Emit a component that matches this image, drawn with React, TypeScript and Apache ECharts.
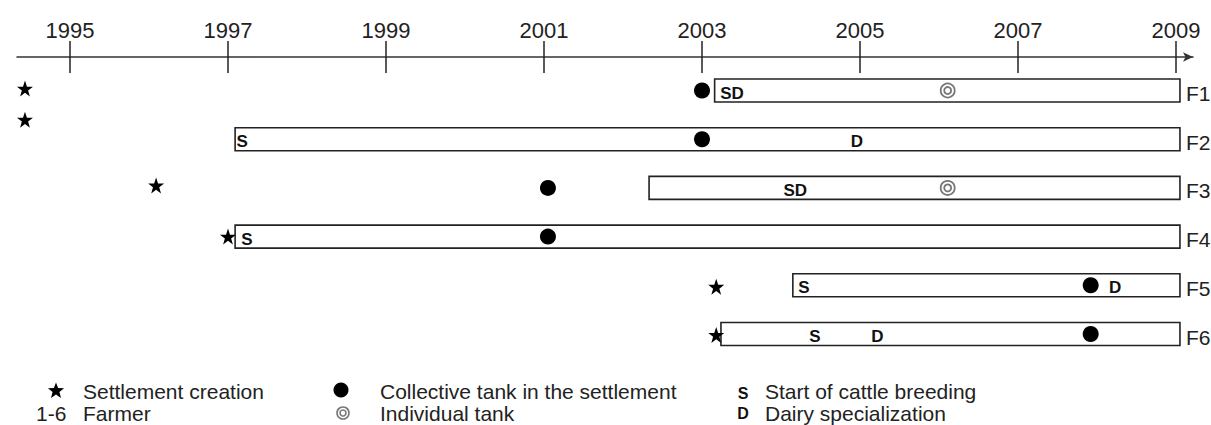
import React, { useEffect, useRef } from "react";
import * as echarts from "echarts";

// ---- data ----
const farmers = ["F1", "F2", "F3", "F4", "F5", "F6"];
const farmerRows = [1, 2, 3, 4, 5, 6];
const yearTicks = [1995, 1997, 1999, 2001, 2003, 2005, 2007, 2009];

const periodStart = [2003.16, 1997.09, 2002.33, 1997.09, 2004.15, 2003.24];
const periodEnd = [2009.05, 2009.05, 2009.05, 2009.05, 2009.05, 2009.05];

const settlementYears = [1994.43, 1994.43, 1996.09, 1997.0, 2003.18, 2003.18];
const settlementRows = [0.96, 1.6, 2.95, 4.0, 5.03, 6.02];

const collectiveTankYears = [2003.0, 2003.0, 2001.05, 2001.05, 2007.92, 2007.92];
const collectiveTankRows = [1, 2, 3, 4, 5, 6];

const individualTankYears = [2006.11, 2006.11];
const individualTankRows = [1, 3];

const eventYears = [2003.38, 1997.18, 2004.96, 2004.18, 1997.24, 2004.29, 2008.23, 2004.43, 2005.22];
const eventRows = [1, 2, 2, 3, 4, 5, 5, 6, 6];
const eventCodes = ["SD", "S", "D", "SD", "S", "S", "D", "S", "D"];

const legendTexts = [
  "Settlement creation",
  "Farmer",
  "Collective tank in the settlement",
  "Individual tank",
  "Start of cattle breeding",
  "Dairy specialization",
];

// ---- style ----
const FONT = "'Liberation Sans', Arial, sans-serif";
const INK = "#222";
const STAR_PATH =
  "path://M50,0 L61.8,35.1 L98.1,35.1 L68.8,56.8 L79.4,91.9 L50,70.2 L20.6,91.9 L31.2,56.8 L1.9,35.1 L38.2,35.1 Z";

function starPoints(cx: number, cy: number, R: number, r: number) {
  const pts: number[][] = [];
  for (let k = 0; k < 10; k++) {
    const rad = k % 2 === 0 ? R : r;
    const a = -Math.PI / 2 + (k * Math.PI) / 5;
    pts.push([cx + rad * Math.cos(a), cy + 1 + rad * Math.sin(a)]);
  }
  return pts;
}

export default function App() {
  const ref = useRef<HTMLDivElement>(null);

  useEffect(() => {
    if (!ref.current) return;
    const chart = echarts.init(ref.current, null, { renderer: "svg" });

    const xMin = 1995 - 53 / 79;
    const xMax = 1995 + 1123 / 79;

    const option: any = {
      animation: false,
      backgroundColor: "#fff",
      grid: {
        left: 17,
        right: 18,
        top: 57,
        bottom: 42.3,
        containLabel: false,
        outerBoundsMode: "none",
      },
      xAxis: [
        {
          type: "value",
          position: "top",
          min: xMin,
          max: xMax,
          offset: 0,
          axisLine: {
            show: true,
            symbol: ["none", "arrow"],
            symbolSize: [7, 10],
            lineStyle: { color: "#333", width: 1.5 },
          },
          axisTick: {
            show: true,
            inside: false,
            length: 16,
            customValues: yearTicks,
            lineStyle: { color: INK, width: 1.5 },
          },
          axisLabel: {
            show: true,
            customValues: yearTicks,
            margin: 16,
            fontSize: 22,
            fontFamily: FONT,
            color: INK,
            formatter: (v: number) => String(Math.round(v)),
          },
          splitLine: { show: false },
        },
        {
          type: "value",
          position: "top",
          min: xMin,
          max: xMax,
          offset: 0,
          axisLine: { show: false },
          axisTick: {
            show: true,
            inside: true,
            length: 16,
            customValues: yearTicks,
            lineStyle: { color: INK, width: 1.5 },
          },
          axisLabel: { show: false },
          splitLine: { show: false },
        },
      ],
      yAxis: {
        type: "value",
        min: 0.312,
        max: 7,
        inverse: true,
        show: false,
        splitLine: { show: false },
      },
      series: [
        {
          type: "custom",
          name: "Farmer period",
          xAxisIndex: 0,
          clip: false,
          z: 1,
          encode: { x: [0, 1], y: 2 },
          data: farmers.map((f, i) => [periodStart[i], periodEnd[i], farmerRows[i]]),
          renderItem: (params: any, api: any) => {
            const s = api.coord([api.value(0), api.value(2)]);
            const e = api.coord([api.value(1), api.value(2)]);
            const h = 23;
            return {
              type: "group",
              children: [
                {
                  type: "rect",
                  shape: { x: s[0], y: s[1] - h / 2, width: e[0] - s[0], height: h },
                  style: { fill: "#fff", stroke: INK, lineWidth: 1.6 },
                },
                {
                  type: "text",
                  x: e[0] + 6,
                  y: s[1] + 3,
                  style: {
                    text: farmers[params.dataIndex],
                    fontSize: 21,
                    fontFamily: FONT,
                    fill: INK,
                    align: "left",
                    verticalAlign: "middle",
                  },
                },
              ],
            };
          },
        },
        {
          type: "custom",
          name: "Events",
          xAxisIndex: 0,
          clip: false,
          z: 3,
          encode: { x: 0, y: 1 },
          data: eventYears.map((y, i) => [y, eventRows[i]]),
          renderItem: (params: any, api: any) => {
            const p = api.coord([api.value(0), api.value(1)]);
            return {
              type: "text",
              x: p[0],
              y: p[1] + 2.5,
              style: {
                text: eventCodes[params.dataIndex],
                fontSize: 17,
                fontWeight: "bold",
                fontFamily: FONT,
                fill: "#111",
                align: "center",
                verticalAlign: "middle",
              },
            };
          },
        },
        {
          type: "scatter",
          name: "Settlement creation",
          xAxisIndex: 0,
          z: 4,
          symbol: STAR_PATH,
          symbolSize: 16,
          itemStyle: { color: "#000", opacity: 1 },
          data: settlementYears.map((y, i) => [y, settlementRows[i]]),
        },
        {
          type: "scatter",
          name: "Collective tank in the settlement",
          xAxisIndex: 0,
          z: 4,
          symbol: "circle",
          symbolSize: 16,
          itemStyle: { color: "#000", opacity: 1 },
          data: collectiveTankYears.map((y, i) => [y, collectiveTankRows[i]]),
        },
        {
          type: "custom",
          name: "Individual tank",
          xAxisIndex: 0,
          clip: false,
          z: 4,
          encode: { x: 0, y: 1 },
          data: individualTankYears.map((y, i) => [y, individualTankRows[i]]),
          renderItem: (params: any, api: any) => {
            const p = api.coord([api.value(0), api.value(1)]);
            return {
              type: "group",
              children: [
                {
                  type: "circle",
                  shape: { cx: p[0], cy: p[1], r: 7 },
                  style: { fill: "#fff", stroke: "#777", lineWidth: 1.8 },
                },
                {
                  type: "circle",
                  shape: { cx: p[0], cy: p[1], r: 3.5 },
                  style: { fill: "#fff", stroke: "#777", lineWidth: 1.8 },
                },
              ],
            };
          },
        },
      ],
      graphic: [
        {
          type: "polygon",
          shape: { points: starPoints(56, 390, 8.5, 3.6) },
          style: { fill: "#000" },
        },
        {
          type: "text",
          x: 83,
          y: 391,
          style: { text: legendTexts[0], fontSize: 21, fontFamily: FONT, fill: INK, verticalAlign: "middle" },
        },
        {
          type: "text",
          x: 36,
          y: 413,
          style: { text: "1-6", fontSize: 21, fontFamily: FONT, fill: INK, verticalAlign: "middle" },
        },
        {
          type: "text",
          x: 83,
          y: 413,
          style: { text: legendTexts[1], fontSize: 21, fontFamily: FONT, fill: INK, verticalAlign: "middle" },
        },
        {
          type: "circle",
          shape: { cx: 341, cy: 390, r: 7.5 },
          style: { fill: "#000" },
        },
        {
          type: "text",
          x: 380,
          y: 391,
          style: { text: legendTexts[2], fontSize: 21, fontFamily: FONT, fill: INK, verticalAlign: "middle" },
        },
        {
          type: "circle",
          shape: { cx: 343, cy: 413, r: 6 },
          style: { fill: "#fff", stroke: "#777", lineWidth: 1.6 },
        },
        {
          type: "circle",
          shape: { cx: 343, cy: 413, r: 3 },
          style: { fill: "#fff", stroke: "#777", lineWidth: 1.6 },
        },
        {
          type: "text",
          x: 380,
          y: 413,
          style: { text: legendTexts[3], fontSize: 21, fontFamily: FONT, fill: INK, verticalAlign: "middle" },
        },
        {
          type: "text",
          x: 743,
          y: 393,
          style: {
            text: "S",
            fontSize: 16,
            fontWeight: "bold",
            fontFamily: FONT,
            fill: "#111",
            align: "center",
            verticalAlign: "middle",
          },
        },
        {
          type: "text",
          x: 765,
          y: 391,
          style: { text: legendTexts[4], fontSize: 21, fontFamily: FONT, fill: INK, verticalAlign: "middle" },
        },
        {
          type: "text",
          x: 743,
          y: 413,
          style: {
            text: "D",
            fontSize: 16,
            fontWeight: "bold",
            fontFamily: FONT,
            fill: "#111",
            align: "center",
            verticalAlign: "middle",
          },
        },
        {
          type: "text",
          x: 765,
          y: 413,
          style: { text: legendTexts[5], fontSize: 21, fontFamily: FONT, fill: INK, verticalAlign: "middle" },
        },
      ],
    };

    chart.setOption(option);
    return () => chart.dispose();
  }, []);

  return (
    <div
      ref={ref}
      style={{ position: "absolute", left: 0, top: 0, width: 1211, height: 425, background: "#fff" }}
    />
  );
}
